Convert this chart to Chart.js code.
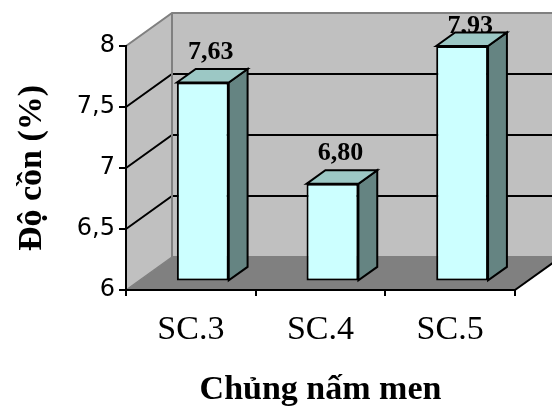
<!DOCTYPE html>
<html>
<head>
<meta charset="utf-8">
<script src="https://cdn.jsdelivr.net/npm/chart.js@4.4.1/dist/chart.umd.min.js"></script>
<style>
  html, body { margin: 0; padding: 0; background: #ffffff; }
  #wrap { width: 552px; height: 408px; }
</style>
</head>
<body>
<div id="wrap"><canvas id="graficoCon" width="552" height="408"></canvas></div>
<script>
// dữ liệu
const categories = ['SC.3', 'SC.4', 'SC.5'];
const doCon = [7.63, 6.80, 7.93];
const nhanGiaTri = ['7,63', '6,80', '7,93'];
const yTicks = [6, 6.5, 7, 7.5, 8];

// chiều sâu 3D (toàn bộ hộp) và vị trí cột trong chiều sâu
const DEPTH = { dx: 46, dy: -33 };
const BAR_FRONT = 0.26;
const BAR_BACK = 0.67;

const WALL = '#c0c0c0';
const FLOOR = '#808080';
const EDGE = '#808080';

function line(ctx, pts, color, width) {
    ctx.beginPath();
    ctx.moveTo(pts[0][0], pts[0][1]);
    for (let i = 1; i < pts.length; i++) ctx.lineTo(pts[i][0], pts[i][1]);
    ctx.strokeStyle = color;
    ctx.lineWidth = width;
    ctx.stroke();
}

function poly(ctx, pts, fill, stroke, width) {
    ctx.beginPath();
    ctx.moveTo(pts[0][0], pts[0][1]);
    for (let i = 1; i < pts.length; i++) ctx.lineTo(pts[i][0], pts[i][1]);
    ctx.closePath();
    ctx.fillStyle = fill;
    ctx.fill();
    if (stroke) {
        ctx.strokeStyle = stroke;
        ctx.lineWidth = width;
        ctx.lineJoin = 'miter';
        ctx.stroke();
    }
}

// tường, sàn và lưới kiểu Excel 3D
const hop3D = {
    id: 'hop3D',
    beforeDraw(chart) {
        const ctx = chart.ctx;
        const { left: L, right: R, top: T, bottom: B } = chart.chartArea;
        const dx = DEPTH.dx, dy = DEPTH.dy;
        const y = chart.scales.y;
        ctx.save();
        poly(ctx, [[L, B], [L, T], [L + dx, T + dy], [L + dx, B + dy]], WALL);
        poly(ctx, [[L + dx, T + dy], [R + dx, T + dy], [R + dx, B + dy], [L + dx, B + dy]], WALL);
        poly(ctx, [[L, B], [R, B], [R + dx, B + dy], [L + dx, B + dy]], FLOOR);

        yTicks.forEach(v => {
            if (v === y.min || v === y.max) return;
            const py = y.getPixelForValue(v);
            line(ctx, [[L, py], [L + dx, py + dy], [R + dx, py + dy]], '#000000', 2);
        });

        line(ctx, [[L, T], [L + dx, T + dy], [R + dx, T + dy]], EDGE, 2);
        line(ctx, [[L + dx, T + dy], [L + dx, B + dy], [R + dx, B + dy]], EDGE, 2);
        line(ctx, [[L, B], [L + dx, B + dy]], EDGE, 1.5);
        line(ctx, [[R, B], [R + dx, B + dy]], '#000000', 2);
        ctx.restore();
    },
    beforeDatasetsDraw(chart) {
        // nhãn giá trị vẽ trước để mặt trên của cột che lên
        const ctx = chart.ctx;
        const meta = chart.getDatasetMeta(0);
        const topBack = chart.chartArea.top + DEPTH.dy;
        ctx.save();
        ctx.font = 'bold 26px "Liberation Serif"';
        ctx.fillStyle = '#000000';
        ctx.textAlign = 'center';
        ctx.textBaseline = 'alphabetic';
        meta.data.forEach((bar, i) => {
            const x = bar.x + DEPTH.dx * BAR_FRONT + 8;
            const yTop = bar.y + DEPTH.dy * BAR_FRONT;
            const yy = Math.max(yTop - 24, topBack + 20);
            ctx.fillText(nhanGiaTri[i], x, yy);
        });
        ctx.restore();
    },
    beforeDatasetDraw(chart) {
        chart.ctx.save();
        chart.ctx.translate(DEPTH.dx * BAR_FRONT, DEPTH.dy * BAR_FRONT);
    },
    afterDatasetDraw(chart, args) {
        const ctx = chart.ctx;
        const meta = args.meta;
        const sdx = DEPTH.dx * (BAR_BACK - BAR_FRONT);
        const sdy = DEPTH.dy * (BAR_BACK - BAR_FRONT);
        meta.data.forEach(bar => {
            const l = bar.x - bar.width / 2, r = bar.x + bar.width / 2;
            const t = bar.y, b = bar.base;
            poly(ctx, [[r, t], [r + sdx, t + sdy], [r + sdx, b + sdy], [r, b]], '#658482', '#000000', 2);
            poly(ctx, [[l, t], [l + sdx, t + sdy], [r + sdx, t + sdy], [r, t]], '#9cc8c5', '#000000', 2);
        });
        ctx.restore();
    }
};

const ctx = document.getElementById('graficoCon').getContext('2d');
const myChart = new Chart(ctx, {
    type: 'bar',
    data: {
        labels: categories,
        datasets: [{
            label: 'Độ cồn',
            data: doCon,
            base: yTicks[0],
            backgroundColor: '#ccffff',
            borderColor: '#000000',
            borderWidth: 2,
            borderSkipped: false,
            categoryPercentage: 1,
            barPercentage: 0.4
        }]
    },
    options: {
        responsive: false,
        animation: false,
        devicePixelRatio: 1,
        layout: { padding: { top: 46, right: 37, left: 0, bottom: 0 } },
        plugins: {
            legend: { display: false },
            tooltip: { enabled: false }
        },
        scales: {
            x: {
                afterFit: s => { s.height = 118; },
                grid: { drawOnChartArea: false, drawTicks: true, tickLength: 6, color: '#000000', lineWidth: 2 },
                border: { display: true, color: '#000000', width: 2 },
                ticks: {
                    color: '#000000',
                    padding: 14,
                    font: { family: '"Liberation Serif"', size: 34 }
                },
                title: {
                    display: true,
                    text: 'Chủng nấm men',
                    color: '#000000',
                    font: { family: '"Liberation Serif"', size: 34, weight: 'bold', lineHeight: 1 },
                    padding: { top: 0, bottom: 1 }
                }
            },
            y: {
                min: 6,
                max: 8,
                afterFit: s => { s.width = 126; },
                afterBuildTicks: s => { s.ticks = yTicks.map(v => ({ value: v })); },
                grid: { drawOnChartArea: false, drawTicks: true, tickLength: 7, color: '#000000', lineWidth: 2 },
                border: { display: true, color: '#000000', width: 2 },
                ticks: {
                    color: '#000000',
                    padding: 4,
                    font: { family: '"DejaVu Sans"', size: 24 },
                    callback: v => String(v).replace('.', ',')
                },
                title: {
                    display: true,
                    text: 'Độ cồn (%)',
                    color: '#000000',
                    font: { family: '"Liberation Serif"', size: 34, weight: 'bold', lineHeight: 1 },
                    padding: { top: 15, bottom: 0 }
                }
            }
        }
    },
    plugins: [hop3D]
});
</script>
</body>
</html>
